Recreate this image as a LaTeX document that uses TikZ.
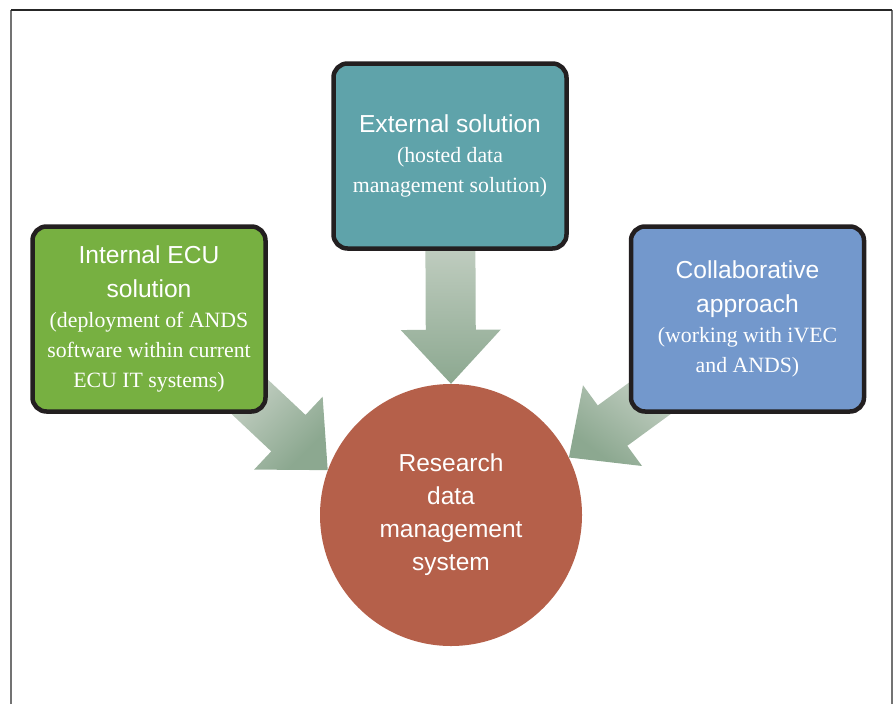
\documentclass[tikz,border=0pt]{standalone}
\usepackage{fontspec}
\setmainfont{Liberation Serif}
\setsansfont{Liberation Sans}
\usepackage{xcolor}
\usetikzlibrary{calc, positioning, backgrounds}

\definecolor{ecugreen}{HTML}{77B041}
\definecolor{extteal}{HTML}{5FA3AA}
\definecolor{collabblue}{HTML}{7398CC}
\definecolor{rdmsred}{HTML}{B5604A}
\definecolor{boxline}{HTML}{231F20}
\definecolor{arrowlight}{HTML}{E2E5DF}
\definecolor{arrowdark}{HTML}{8CA890}

\newcommand{\headfont}{\sffamily\fontsize{24.6}{34}\selectfont}
\newcommand{\notefont}{\rmfamily\fontsize{21.8}{30}\selectfont}

% fat arrow from #1 to #2, shading turned by #3
\newcommand{\fatarrow}[3]{%
  \coordinate (hb) at ($(#2)!54pt!(#1)$);
  \shade[top color=arrowlight, bottom color=arrowdark, shading angle=#3]
    ($(#1)!25pt!90:(#2)$) -- ($(hb)!25pt!90:(#2)$) -- ($(hb)!50pt!90:(#2)$)
    -- (#2) -- ($(hb)!50pt!-90:(#2)$) -- ($(hb)!25pt!-90:(#2)$)
    -- ($(#1)!25pt!-90:(#2)$) -- cycle;
}

\tikzset{
  optionbox/.style={draw=boxline, line width=4.5pt, rounded corners=14pt,
    minimum width=233pt, minimum height=185pt, inner sep=0pt,
    text width=228pt, align=flush center, text=white},
  hub/.style={circle, fill=rdmsred, minimum size=262pt, inner sep=0pt,
    align=center, text=white, font=\sffamily\fontsize{24.5}{33}\selectfont}
}

\begin{document}
\begin{tikzpicture}[x=1pt, y=-1pt]
  \useasboundingbox (0,0) rectangle (893,704);

  % frame
  \draw[black!55, line width=1.3pt] (11,704) -- (11,10);
  \draw[black!55, line width=1.3pt] (892,704) -- (892,10);
  \draw[black!85, line width=1.3pt] (11,10) -- (892,10);

  \node[optionbox, fill=ecugreen] (ecu) at (149,319)
    {\headfont Internal ECU\\ solution\par
     \notefont (deployment of ANDS\\ software within current\\ ECU IT systems)\par};
  \node[optionbox, fill=extteal] (ext) at (450,156)
    {\headfont External solution\par
     \notefont (hosted data\\ management solution)\par};
  \node[optionbox, fill=collabblue] (collab) at (747.5,319)
    {\headfont Collaborative\\ approach\par
     \notefont (working with iVEC\\ and ANDS)\par};

  \node[hub] (hub) at (451,515) {Research\\ data\\ management\\ system};

  \begin{scope}[on background layer]
    \coordinate (ecutail) at ($(hub.160)!170pt!(ecu.south east)$);
    \coordinate (collabtail) at ($(hub.26)!170pt!(collab.south west)$);
    \fatarrow{ext.center}{hub.north}{0}
    \fatarrow{ecutail}{hub.160}{45}
    \fatarrow{collabtail}{hub.26}{-37}
  \end{scope}
\end{tikzpicture}
\end{document}
